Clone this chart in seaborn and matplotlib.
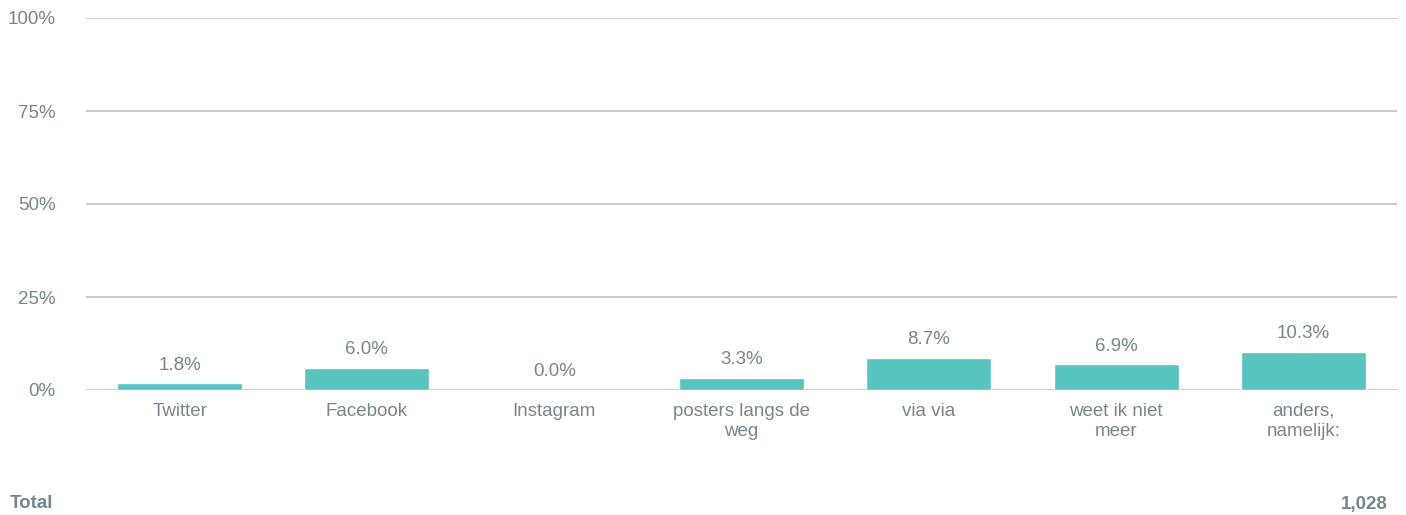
import seaborn as sns
import matplotlib.pyplot as plt
import pandas as pd

# answers and share of respondents (%)
categories = ['Twitter', 'Facebook', 'Instagram', 'posters langs de\nweg', 'via via',
              'weet ik niet\nmeer', 'anders,\nnamelijk:']
values = [1.8, 6.0, 0.0, 3.3, 8.7, 6.9, 10.3]
yticks = [0, 25, 50, 75, 100]
total_label = 'Total'
total_n = '1,028'

bar_color = '#57C4BF'
text_color = '#77868F'
grid_color = '#CCCCCC'

sns.set_style('white')
plt.rcParams['font.family'] = ['Liberation Sans', 'DejaVu Sans']

df = pd.DataFrame({'cat': categories, 'val': values})

fig = plt.figure(figsize=(14.06, 5.15), dpi=100)
ax = fig.add_axes([86 / 1406, 1 - 390 / 515, (1397 - 86) / 1406, (390 - 18) / 515])
sns.barplot(data=df, x='cat', y='val', color=bar_color, width=0.667, saturation=1, ax=ax, zorder=3)

ax.set_ylim(0, 100)
ax.set_xlim(-0.5, len(categories) - 0.5)
ax.set_yticks(yticks)
ax.set_yticklabels([f'{t}%' for t in yticks])
ax.set_xticks(range(len(categories)))
ax.set_xticklabels(categories, linespacing=1.3)
ax.yaxis.grid(True, color=grid_color, linewidth=1.5, zorder=0)
ax.set_axisbelow(True)
for s in ax.spines.values():
    s.set_visible(False)
ax.tick_params(axis='y', length=0, pad=22, labelsize=13.5, labelcolor=text_color)
ax.tick_params(axis='x', length=0, pad=9, labelsize=13.5, labelcolor=text_color)
ax.set_xlabel('')
ax.set_ylabel('')

for i, v in enumerate(values):
    ax.annotate(f'{v:.1f}%', (i, v), xytext=(0, 7), textcoords='offset points',
                ha='center', va='bottom', fontsize=13.5, color=text_color)

fig.text(10 / 1406, 1 - 504 / 515, total_label, ha='left', va='center', fontsize=13.5,
         fontweight='bold', color=text_color)
fig.text(1388 / 1406, 1 - 504 / 515, total_n, ha='right', va='center', fontsize=13.5,
         fontweight='bold', color=text_color)

fig.savefig('out.png', dpi=100)
